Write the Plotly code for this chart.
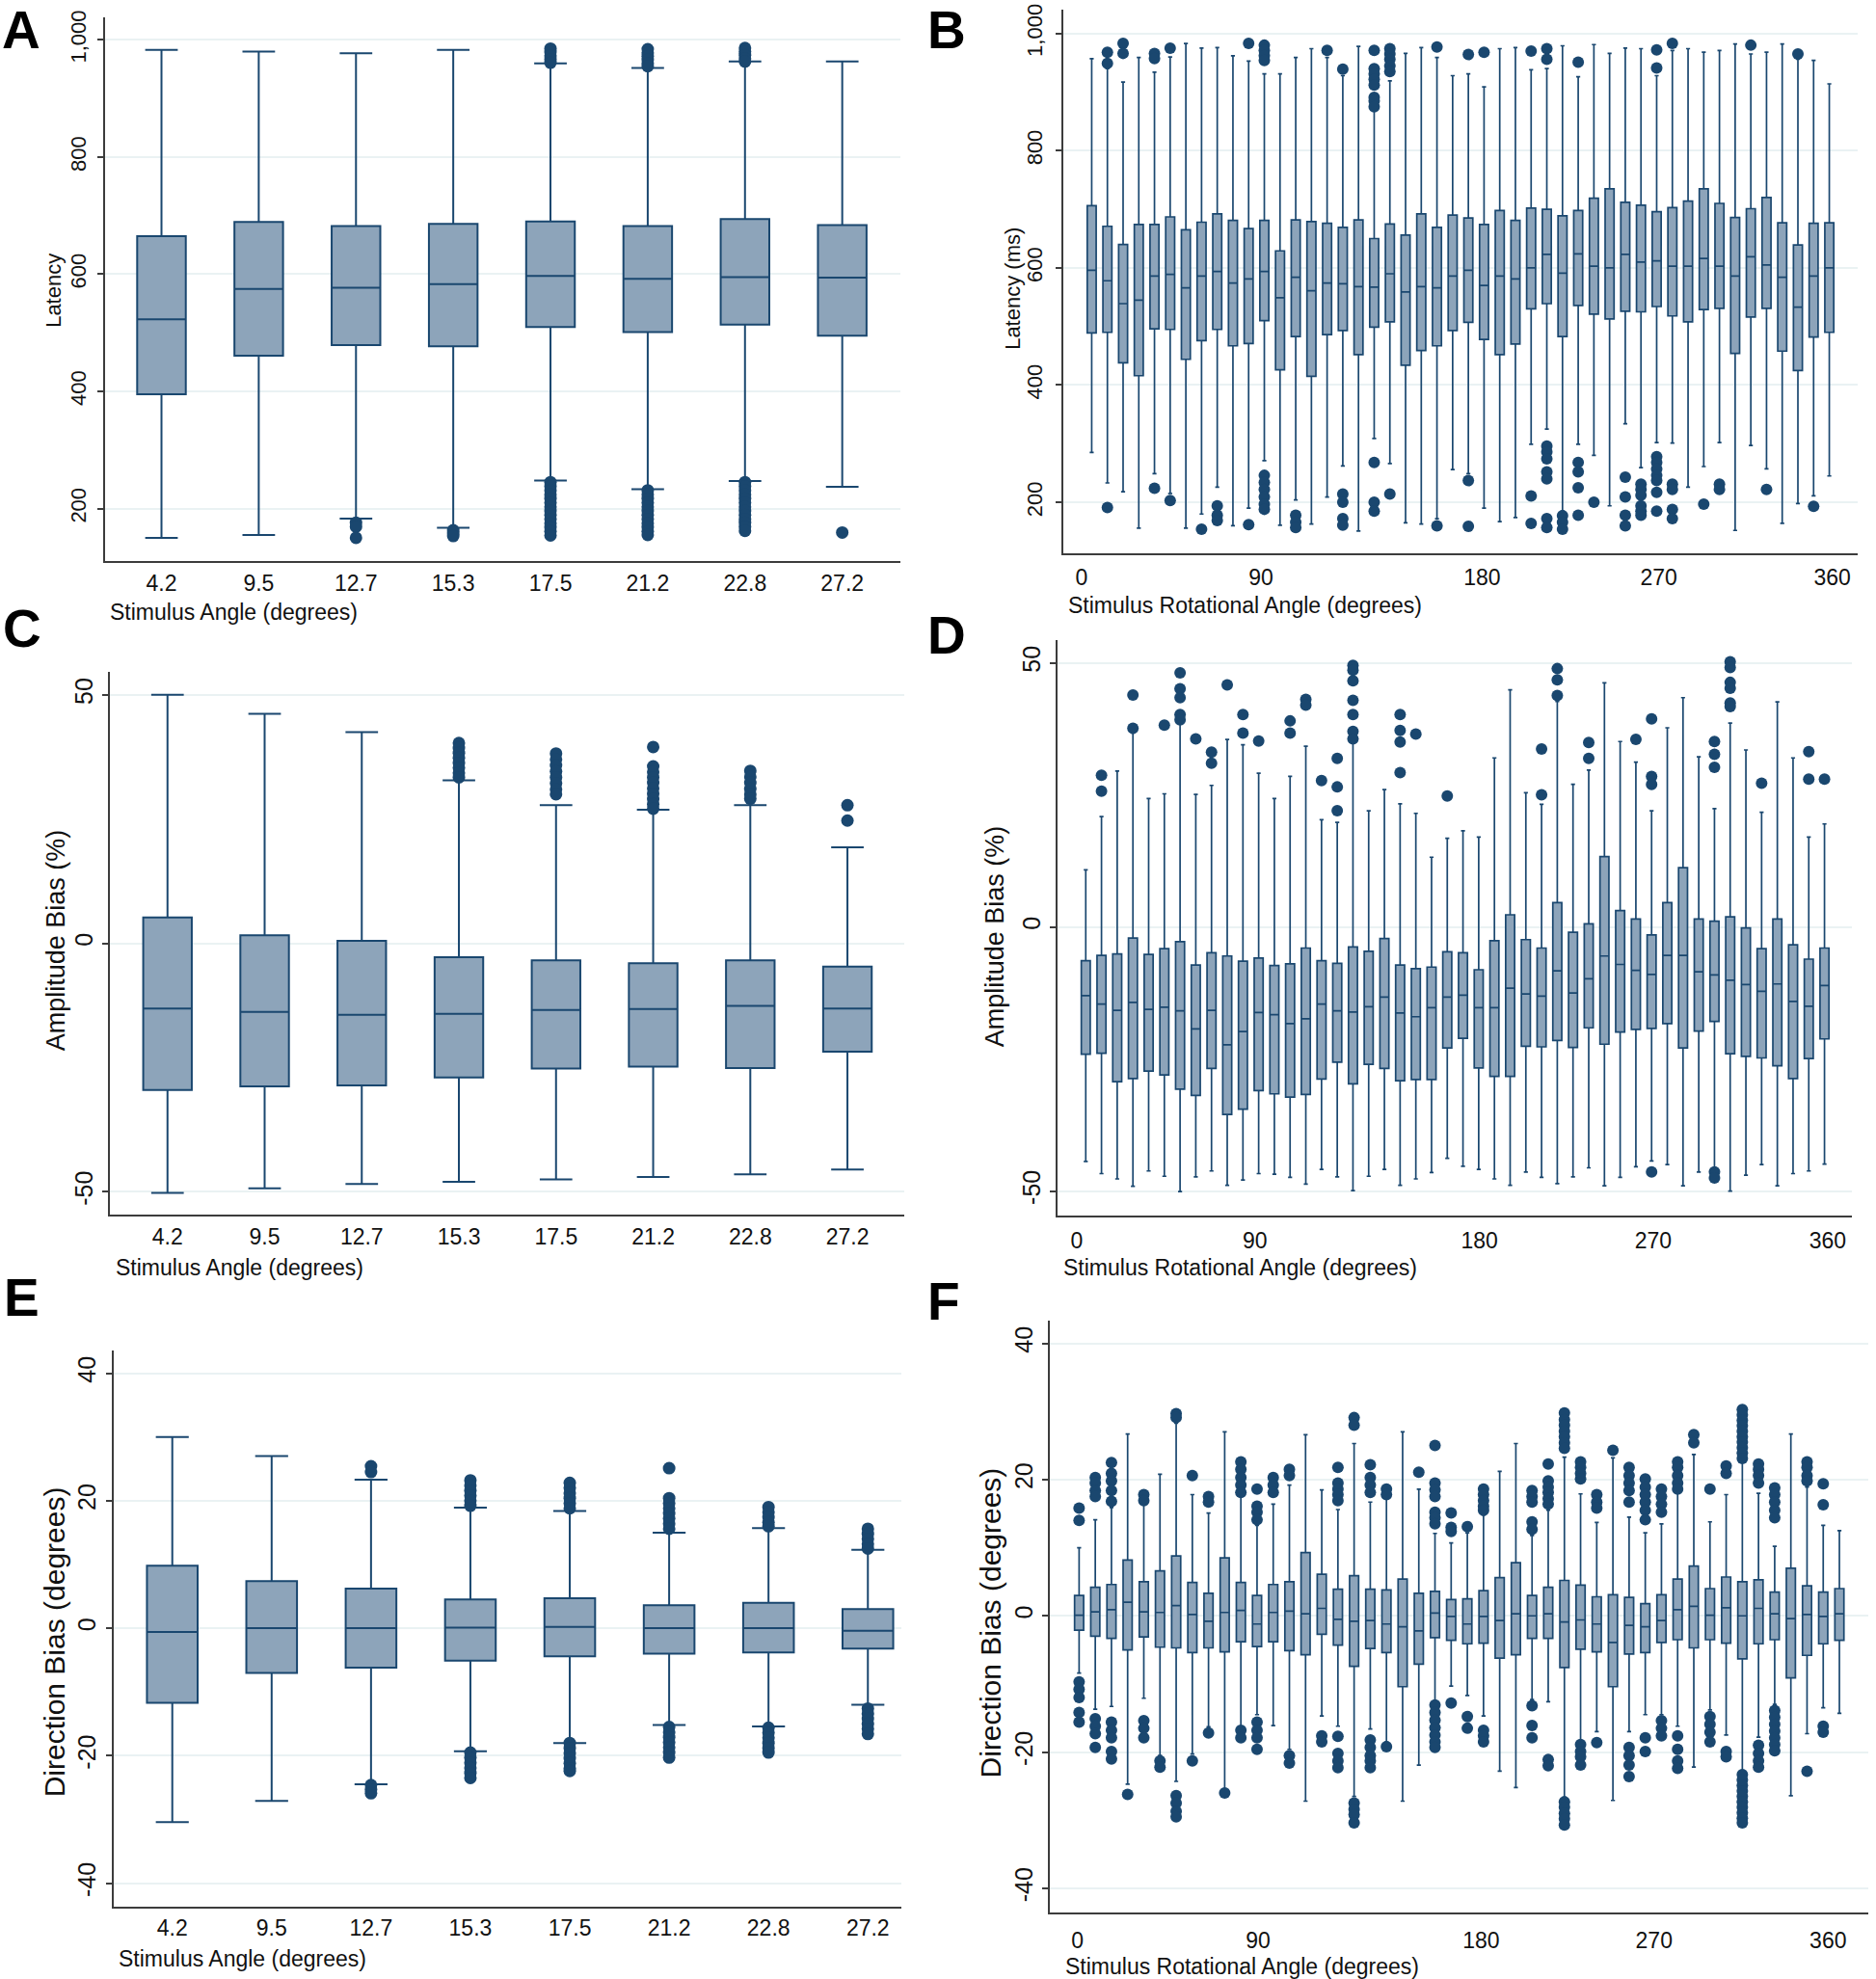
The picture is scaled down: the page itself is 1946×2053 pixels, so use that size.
import plotly.graph_objects as go

W, H = 1946, 2053
NAVY = '#1a476f'
FILL = '#8da4ba'
GRID = '#eaf2f3'
AXIS = '#3c3c3c'
FONT = 'Liberation Sans, Arial, Helvetica, sans-serif'

# ---------------- data ----------------
angle_labels = ['4.2', '9.5', '12.7', '15.3', '17.5', '21.2', '22.8', '27.2']
rot_labels = ['0', '90', '180', '270', '360']

# A: latency by stimulus angle
A_hi = [983, 980, 977, 983, 960, 952, 963, 963]
A_q3 = [665, 689, 682, 686, 690, 682, 694, 684]
A_med = [523, 575, 577, 583, 597, 592, 595, 594]
A_q1 = [395, 461, 479, 477, 510, 501, 514, 495]
A_lo = [150, 155, 183, 167, 248, 233, 247, 237]
A_out = [[], [], [176, 169, 150], [163, 158, 153],
         [985, 979, 973, 967, 961, 245, 238, 231, 224, 217, 210, 203, 196, 189, 182, 175, 168, 161, 154],
         [984, 978, 972, 966, 960, 955, 231, 224, 217, 210, 203, 196, 189, 182, 175, 168, 161, 155],
         [986, 980, 974, 968, 963, 245, 238, 231, 224, 217, 210, 203, 196, 189, 182, 176, 169, 162],
         [159]]

# B: latency by rotational angle (48 bins)
B_hi = [957, 940, 917, 959, 934, 960, 983, 975, 976, 962, 953, 931, 931, 959, 974, 959,
        928, 978, 869, 919, 966, 976, 959, 928, 931, 909, 974, 976, 938, 940, 979, 926,
        981, 966, 975, 974, 928, 971, 974, 968, 971, 982, 965, 968, 982, 956, 954, 914]
B_q3 = [706, 671, 640, 674, 674, 687, 665, 678, 692, 681, 667, 681, 629, 682, 679, 676,
        669, 682, 650, 675, 656, 692, 669, 690, 685, 674, 698, 681, 702, 700, 689, 698,
        719, 735, 712, 707, 696, 703, 714, 735, 710, 686, 701, 720, 677, 639, 676, 677]
B_med = [596, 578, 539, 545, 586, 589, 566, 586, 594, 574, 581, 594, 549, 584, 561, 574,
         573, 568, 567, 590, 559, 568, 566, 586, 596, 570, 586, 581, 600, 623, 591, 624,
         603, 600, 623, 610, 612, 603, 603, 616, 603, 586, 619, 605, 584, 533, 586, 600]
B_q1 = [489, 490, 438, 416, 496, 495, 444, 476, 495, 467, 471, 510, 426, 483, 415, 486,
        493, 452, 499, 508, 434, 459, 467, 493, 507, 478, 452, 470, 530, 539, 483, 536,
        521, 513, 526, 525, 534, 518, 508, 529, 531, 454, 516, 531, 458, 425, 482, 490]
B_lo = [285, 233, 218, 156, 249, 215, 156, 180, 226, 160, 190, 271, 161, 204, 163, 209,
        262, 151, 309, 266, 165, 163, 172, 256, 249, 190, 167, 174, 299, 325, 185, 299,
        280, 194, 334, 259, 302, 301, 226, 261, 302, 152, 297, 257, 164, 198, 211, 245]
B_out = [[], [968, 949, 191], [983, 966], [], [966, 957, 224], [975, 203], [], [154],
         [194, 178, 169], [], [983, 162],
         [980, 971, 962, 954, 246, 234, 222, 209, 197, 188], [], [178, 166, 157], [], [971],
         [939, 214, 200, 172, 161], [],
         [971, 940, 931, 922, 912, 891, 885, 875, 268, 200, 185],
         [974, 965, 956, 945, 935, 214], [], [], [977, 160], [],
         [964, 237, 159], [968], [], [], [970, 211, 164],
         [974, 956, 296, 286, 274, 252, 240, 172, 157], [177, 166, 154],
         [951, 268, 252, 225, 178], [200], [], [243, 209, 178, 160],
         [231, 222, 212, 194, 185, 178], [972, 941, 278, 268, 257, 246, 237, 217, 185],
         [983, 231, 222, 188, 172], [], [197], [231, 222], [], [980], [222], [], [965],
         [193], []]

# C: amplitude bias by stimulus angle
C_hi = [50.0, 46.2, 42.5, 32.8, 27.8, 26.9, 27.8, 19.3]
C_q3 = [5.2, 1.6, 0.5, -2.8, -3.4, -4.0, -3.4, -4.7]
C_med = [-13.1, -13.8, -14.4, -14.2, -13.4, -13.2, -12.6, -13.1]
C_q1 = [-29.5, -28.8, -28.6, -27.0, -25.2, -24.8, -25.1, -21.8]
C_lo = [-50.2, -49.3, -48.4, -48.0, -47.5, -47.0, -46.5, -45.5]
C_out = [[], [], [],
         [40.3, 39.3, 38.3, 37.3, 36.3, 35.3, 34.3, 33.4],
         [38.2, 37.0, 35.8, 34.6, 33.4, 32.2, 31.0, 30.0],
         [39.5, 35.6, 34.5, 33.4, 32.3, 31.2, 30.1, 29.0, 28.0, 27.1],
         [34.7, 33.5, 32.3, 31.1, 30.0, 29.1],
         [27.8, 24.7]]

# D: amplitude bias by rotational angle
D_hi = [10.8, 20.9, 29.5, 36.7, 24.3, 25.2, 38.4, 25.1, 26.8, 35.5, 34.5, 29.1, 24.3, 28.5, 34.2, 20.3,
        19.8, 34.9, 22.0, 26.0, 23.3, 21.5, 13.2, 16.8, 18.2, 17.0, 32.0, 44.9, 25.4, 23.2, 42.7, 27.0,
        29.7, 46.2, 35.1, 31.2, 22.0, 37.7, 43.4, 32.2, 22.4, 38.6, 33.5, 21.7, 42.6, 32.0, 17.0, 19.5]
D_q3 = [-6.4, -5.4, -5.1, -2.1, -5.2, -4.1, -2.8, -7.2, -4.9, -5.5, -6.5, -5.9, -7.3, -7.0, -4.0, -6.4,
        -6.9, -3.8, -4.6, -2.2, -7.2, -7.9, -7.6, -4.7, -4.9, -8.1, -2.6, 2.3, -2.4, -4.0, 4.6, -1.0,
        0.6, 13.3, 3.1, 1.5, -1.5, 4.6, 11.2, 1.5, 1.1, 1.9, -0.2, -4.1, 1.5, -3.4, -6.1, -4.0]
D_med = [-13.0, -14.6, -15.8, -14.3, -15.6, -15.2, -15.9, -19.3, -15.8, -22.3, -19.8, -16.2, -16.6, -18.3, -17.4, -14.6,
         -15.9, -16.1, -15.1, -13.3, -16.3, -17.0, -15.3, -13.3, -12.9, -15.3, -15.3, -11.6, -12.7, -13.1, -8.3, -12.5,
         -9.8, -5.5, -7.1, -8.2, -9.0, -5.4, -5.4, -8.5, -9.1, -10.1, -10.9, -12.2, -10.8, -14.1, -15.0, -11.1]
D_q1 = [-24.1, -23.9, -29.3, -28.7, -27.3, -28.0, -30.7, -31.9, -26.8, -35.5, -34.5, -31.0, -31.6, -32.2, -31.7, -28.8,
        -25.6, -29.7, -26.0, -26.8, -29.1, -28.9, -28.9, -22.9, -21.1, -26.7, -28.3, -28.3, -22.6, -22.7, -21.5, -22.8,
        -19.1, -22.2, -19.9, -19.4, -19.2, -18.3, -22.9, -19.7, -17.9, -24.0, -24.5, -24.8, -26.3, -28.7, -24.9, -21.2]
D_lo = [-44.4, -46.7, -47.7, -49.1, -46.2, -47.2, -50.1, -47.3, -46.2, -48.9, -47.9, -46.7, -46.8, -47.4, -48.7, -45.9,
        -47.3, -49.9, -47.2, -45.9, -48.9, -47.7, -46.5, -43.8, -45.3, -45.9, -47.7, -48.9, -46.4, -47.4, -48.6, -47.3,
        -45.6, -49.0, -47.4, -45.4, -44.3, -45.0, -49.0, -46.4, -45.6, -50.0, -47.0, -45.0, -49.0, -46.7, -46.2, -44.9]
D_out = [[], [28.7, 25.7], [], [43.9, 37.6], [], [38.2], [48.1, 45.1, 43.4, 40.2, 39.2], [35.6],
         [33.1, 31.0], [45.8], [40.2, 36.7], [35.2], [], [39.0, 36.7], [43.1, 42.0], [27.7],
         [31.9, 26.5, 22.0], [49.5, 48.6, 46.6, 42.9, 40.2, 37.0, 35.6], [], [],
         [40.2, 37.2, 35.0, 29.2], [36.5], [], [24.8],
         [], [], [], [], [], [33.7, 25.0], [48.9, 46.8, 43.8], [],
         [34.9, 31.9], [], [], [35.5], [39.4, 28.5, 27.0, -46.4], [], [], [],
         [35.1, 32.7, 30.2, -46.4, -47.5], [50.2, 49.1, 46.3, 45.2, 42.4, 41.7], [], [27.2], [], [],
         [33.2, 28.0], [28.0]]

# E: direction bias by stimulus angle
E_hi = [30.0, 27.0, 23.3, 18.9, 18.4, 15.0, 15.7, 12.3]
E_q3 = [9.8, 7.4, 6.2, 4.5, 4.7, 3.6, 4.0, 3.0]
E_med = [-0.6, 0.0, 0.0, 0.1, 0.2, 0.0, 0.0, -0.4]
E_q1 = [-11.7, -7.0, -6.2, -5.1, -4.4, -4.0, -3.8, -3.2]
E_lo = [-30.4, -27.1, -24.5, -19.3, -18.0, -15.2, -15.4, -12.0]
E_out = [[], [],
         [25.4, 24.5, -24.6, -25.3, -25.9],
         [23.2, 22.4, 21.6, 20.8, 20.0, 19.2, -19.5, -20.3, -21.1, -21.9, -22.7, -23.5],
         [22.8, 22.0, 21.2, 20.4, 19.6, 18.8, -18.0, -18.8, -19.6, -20.4, -21.2, -22.0, -22.4],
         [25.1, 20.4, 19.6, 18.8, 18.0, 17.2, 16.4, 15.6, -15.5, -16.3, -17.1, -17.9, -18.7, -19.5, -20.3],
         [19.0, 18.2, 17.4, 16.6, 16.0, -15.6, -16.4, -17.2, -18.0, -18.8, -19.5],
         [15.6, 14.8, 14.0, 13.2, 12.5, -12.6, -13.4, -14.2, -15.0, -15.8, -16.6]]

# F: direction bias by rotational angle
F_hi = [10.0, 14.1, 15.9, 26.7, 16.3, 20.8, 28.3, 17.8, 15.1, 27.0, 17.8, 13.3, 16.4, 19.2, 26.6, 18.5,
        15.6, 25.3, 16.7, 17.2, 27.0, 18.6, 12.1, 10.7, 12.2, 14.8, 21.2, 25.3, 11.8, 15.5, 23.3, 17.9,
        13.7, 23.2, 14.5, 12.2, 13.5, 18.1, 23.7, 13.8, 17.8, 22.5, 18.0, 10.2, 26.7, 18.9, 13.3, 12.5]
F_q3 = [3.0, 4.2, 4.6, 8.2, 5.0, 6.6, 8.8, 4.9, 3.3, 8.5, 4.9, 3.0, 4.6, 5.0, 9.3, 6.1,
        3.9, 5.9, 3.9, 3.8, 5.4, 3.3, 3.6, 2.4, 2.5, 3.7, 5.6, 7.8, 3.0, 4.2, 5.2, 4.5,
        2.8, 3.1, 2.7, 1.8, 3.1, 5.4, 7.3, 4.0, 5.7, 5.0, 5.3, 3.5, 7.0, 4.4, 3.5, 4.0]
F_med = [0.1, 0.6, 0.9, 2.0, 0.6, 0.5, 1.5, 0.2, -0.8, 0.5, 0.8, -1.2, 0.5, 0.7, 0.3, 1.1,
         -0.5, -0.8, -0.7, -1.2, -1.6, -2.2, 0.4, -0.1, -1.2, -0.1, -0.7, 0.3, 0.0, 0.3, -0.9, -0.6,
         -1.2, -3.9, -1.4, -1.6, -0.7, 0.9, 1.4, 0.1, 1.2, 0.0, 1.1, 0.3, -0.4, 0.2, -0.1, 0.3]
F_q1 = [-2.1, -3.0, -3.3, -5.0, -3.1, -4.6, -4.7, -5.4, -4.7, -5.3, -3.8, -4.5, -3.8, -5.1, -5.7, -2.7,
        -4.3, -7.4, -4.8, -5.4, -10.4, -7.1, -3.2, -3.6, -4.1, -4.0, -6.2, -5.7, -3.3, -3.3, -7.6, -4.9,
        -5.3, -10.4, -5.6, -5.4, -3.9, -3.5, -4.7, -3.5, -4.0, -6.3, -4.1, -3.5, -9.1, -5.8, -4.1, -3.6]
F_lo = [-8.4, -13.7, -13.3, -24.7, -12.1, -20.5, -24.3, -20.3, -16.3, -25.4, -16.2, -14.5, -16.1, -19.6, -27.2, -14.7,
        -16.2, -26.5, -16.6, -18.5, -27.2, -21.9, -12.5, -10.3, -11.7, -14.7, -22.8, -25.2, -12.3, -12.6, -26.6, -18.5,
        -17.0, -27.1, -17.0, -14.5, -14.5, -16.2, -22.2, -13.8, -17.5, -22.7, -17.8, -13.0, -26.4, -17.3, -13.5, -14.3]
F_out = [[15.8, 14.0, -9.7, -10.8, -12.0, -14.2, -15.6],
         [20.3, 19.5, 18.4, 17.5, -15.1, -16.2, -17.3, -19.3],
         [22.5, 20.9, 19.8, 18.4, 16.8, -15.6, -16.8, -17.9, -19.9, -21.0],
         [-26.2],
         [17.8, 16.9, -15.4, -16.5, -17.9],
         [-21.3, -22.2],
         [29.7, 29.1, -26.4, -27.5, -28.7, -29.5],
         [20.6, -21.3],
         [17.5, 16.7, -17.2],
         [-26.0],
         [22.6, 21.5, 20.3, 19.2, 18.1, -16.8, -17.9],
         [18.6, 16.1, 15.2, 14.1, -15.6, -16.8, -17.9, -19.6],
         [20.3, 19.2, 18.1],
         [21.5, 20.6, -20.5, -21.6],
         [],
         [-17.6, -18.5],
         [21.8, 19.5, 18.6, 17.8, 16.9, -17.7, -20.2, -21.3, -22.3],
         [29.1, 28.0, -27.5, -28.4, -29.2, -30.4],
         [22.2, 20.3, 19.2, 18.1, -18.2, -19.3, -20.5, -21.3, -22.3],
         [18.6, 17.8, -19.2],
         [],
         [21.1],
         [25.0, 19.5, 18.5, 17.5, 15.2, 14.4, 13.5, -13.1, -14.2, -15.3, -16.4, -17.5, -18.5, -19.3],
         [15.1, 13.0, 12.4, -12.8],
         [13.1, -14.8, -16.5],
         [18.6, 17.8, 16.9, 16.1, 15.5, -16.8, -17.6, -18.5],
         [],
         [],
         [18.4, 17.5, 16.7, 13.8, 12.7, -13.2, -16.1, -17.9],
         [22.3, 19.8, 18.9, 18.1, 17.2, 16.4, -21.1, -22.0],
         [29.8, 28.8, 28.0, 27.1, 26.3, 25.4, 24.6, -27.3, -28.1, -29.0, -29.8, -30.7],
         [22.6, 21.8, 20.9, 20.1, -18.9, -19.9, -20.7, -21.9],
         [17.8, 16.7, 15.8, -18.6],
         [24.3],
         [21.8, 20.6, 19.5, 18.4, 16.7, -19.3, -20.5, -21.9, -23.6],
         [20.1, 18.9, 17.8, 16.7, 15.5, 14.1, -17.9, -19.9],
         [18.6, 17.5, 16.4, 15.2, -15.4, -16.5, -17.6],
         [22.6, 21.8, 20.6, 19.5, 18.6, -17.6, -19.6, -21.3, -22.4],
         [26.6, 25.4],
         [18.6, -14.8, -15.9, -17.1, -18.5],
         [22.0, 20.9, -19.9, -20.7],
         [30.3, 29.5, 28.7, 27.9, 27.1, 26.3, 25.5, 24.7, 23.9, 23.1,
          -23.3, -24.1, -24.9, -25.7, -26.5, -27.3, -28.1, -28.9, -29.7, -30.4],
         [22.3, 21.5, 20.6, 19.5, -19.0, -20.2, -21.3, -22.2],
         [18.8, 17.8, 16.7, 15.5, 14.4, -13.9, -14.9, -15.9, -16.9, -17.9, -18.9, -19.8],
         [],
         [22.6, 21.8, 20.6, 19.8, -22.8],
         [19.4, 16.3, -16.2, -17.1],
         []]

# ---------------- figure ----------------
fig = go.Figure()


def add_panel(n, hi, q3, med, q1, lo, outs, width, capw, lw, msize):
    pos = list(range(len(med)))
    xa = 'x' if n == 1 else 'x%d' % n
    ya = 'y' if n == 1 else 'y%d' % n
    fig.add_trace(go.Box(x=pos, q1=q1, median=med, q3=q3, lowerfence=lo, upperfence=hi,
                         width=width, whiskerwidth=capw, fillcolor=FILL,
                         line=dict(color=NAVY, width=lw), boxpoints=False,
                         hoverinfo='skip', xaxis=xa, yaxis=ya))
    ox, oy = [], []
    for i, vals in zip(pos, outs):
        for v in vals:
            ox.append(i)
            oy.append(v)
    fig.add_trace(go.Scatter(x=ox, y=oy, mode='markers', hoverinfo='skip',
                             marker=dict(size=msize, color=NAVY, line=dict(width=0)),
                             xaxis=xa, yaxis=ya))


add_panel(1, A_hi, A_q3, A_med, A_q1, A_lo, A_out, 0.5, 0.67, 2, 13)
add_panel(2, B_hi, B_q3, B_med, B_q1, B_lo, B_out, 0.57, 0.45, 1.7, 12)
add_panel(3, C_hi, C_q3, C_med, C_q1, C_lo, C_out, 0.5, 0.67, 2, 13)
add_panel(4, D_hi, D_q3, D_med, D_q1, D_lo, D_out, 0.57, 0.45, 1.7, 12)
add_panel(5, E_hi, E_q3, E_med, E_q1, E_lo, E_out, 0.51, 0.65, 2, 13)
add_panel(6, F_hi, F_q3, F_med, F_q1, F_lo, F_out, 0.56, 0.45, 1.7, 12)

# panel geometry in page pixels: (left, right), (top, bottom), x range, y range
geom = {
    1: ((108.6, 933.9), (10.3, 576.5), (-0.584, 7.597), (110, 1038)),
    2: ((1103.3, 1926.7), (2.4, 568.5), (-1.79, 48.79), (112.5, 1040)),
    3: ((113.6, 938.0), (691.8, 1256.5), (-0.597, 7.585), (-54.5, 54.6)),
    4: ((1097.1, 1921.1), (658.6, 1257.7), (-1.79, 48.75), (-54.6, 54.3)),
    5: ((117.9, 935.0), (1398.2, 1977.8), (-0.59, 7.337), (-43.7, 43.6)),
    6: ((1089.0, 1937.9), (1366.9, 1983.4), (-1.81, 48.78), (-43.5, 43.4)),
}
lat_ticks = ([200, 400, 600, 800, 1000], ['200', '400', '600', '800', '1,000'])
amp_ticks = ([-50, 0, 50], ['-50', '0', '50'])
dir_ticks = ([-40, -20, 0, 20, 40], ['-40', '-20', '0', '20', '40'])
yticks = {1: lat_ticks, 2: lat_ticks, 3: amp_ticks, 4: amp_ticks, 5: dir_ticks, 6: dir_ticks}
xticks = {
    1: (list(range(8)), angle_labels),
    2: ([-0.65, 10.78, 24.88, 36.13, 47.19], rot_labels),
    3: (list(range(8)), angle_labels),
    4: ([-0.57, 10.77, 25.05, 36.1, 47.2], rot_labels),
    5: (list(range(8)), angle_labels),
    6: ([-0.11, 11.06, 24.85, 35.54, 46.3], rot_labels),
}
ytick_size = {1: 22, 2: 22, 3: 25, 4: 25, 5: 25, 6: 25}
ytick_gap = {1: 3, 2: 6, 3: 0, 4: 0, 5: 1, 6: 0}
xtick_gap = {1: 1, 2: 3, 3: 2, 4: 5, 5: 0, 6: 8}

layout_axes = {}
for n, ((xl, xr), (yt, yb), xrange_, yrange_) in geom.items():
    sx = '' if n == 1 else str(n)
    layout_axes['xaxis' + sx] = dict(
        domain=[xl / W, xr / W], range=list(xrange_), anchor='y' + sx,
        showline=True, linecolor=AXIS, linewidth=2, showgrid=False, zeroline=False,
        ticks='', tickmode='array', tickvals=xticks[n][0], ticktext=xticks[n][1],
        tickfont=dict(family=FONT, size=23, color='#111111'),
        ticklabelstandoff=xtick_gap[n])
    layout_axes['yaxis' + sx] = dict(
        domain=[1 - yb / H, 1 - yt / H], range=list(yrange_), anchor='x' + sx,
        showline=True, linecolor=AXIS, linewidth=2, zeroline=False,
        showgrid=True, gridcolor=GRID, gridwidth=1.5,
        ticks='outside', ticklen=6, tickwidth=1.5, tickcolor=AXIS,
        tickmode='array', tickvals=yticks[n][0], ticktext=yticks[n][1], tickangle=-90,
        tickfont=dict(family=FONT, size=ytick_size[n], color='#111111'),
        ticklabelstandoff=ytick_gap[n])

annotations = []
# y titles: text, centre x, centre y, size
for txt, cx, cy, sz in [('Latency', 56, 295, 22), ('Latency (ms)', 1051, 293, 22),
                        ('Amplitude Bias (%)', 58, 971, 27), ('Amplitude Bias (%)', 1032, 967, 27),
                        ('Direction Bias (degrees)', 56, 1702, 30),
                        ('Direction Bias (degrees)', 1027, 1682, 30)]:
    annotations.append(dict(text=txt, x=cx / W, y=1 - cy / H, xref='paper', yref='paper',
                            xanchor='center', yanchor='middle', textangle=-90, showarrow=False,
                            font=dict(family=FONT, size=sz, color='#111111')))
# x titles: text, left x, centre y
for txt, lx, cy in [('Stimulus Angle (degrees)', 112, 629.5),
                    ('Stimulus Rotational Angle (degrees)', 1106, 622.5),
                    ('Stimulus Angle (degrees)', 118, 1312),
                    ('Stimulus Rotational Angle (degrees)', 1101, 1312),
                    ('Stimulus Angle (degrees)', 121, 2032),
                    ('Stimulus Rotational Angle (degrees)', 1103, 2040)]:
    annotations.append(dict(text=txt, x=lx / W, y=1 - cy / H, xref='paper', yref='paper',
                            xanchor='left', yanchor='middle', showarrow=False,
                            font=dict(family=FONT, size=23, color='#000000' if False else '#111111')))
# panel letters: letter, left x, top y of text box
for txt, lx, ty in [('A', 0, -10), ('B', 960, -10), ('C', 1, 613),
                    ('D', 960, 620), ('E', 2, 1310), ('F', 960, 1314)]:
    annotations.append(dict(text='<b>%s</b>' % txt, x=lx / W, y=1 - ty / H,
                            xref='paper', yref='paper', xanchor='left', yanchor='top',
                            showarrow=False, font=dict(family=FONT, size=55, color='#000000')))

fig.update_layout(width=W, height=H, margin=dict(l=0, r=0, t=0, b=0),
                  paper_bgcolor='white', plot_bgcolor='white', showlegend=False,
                  annotations=annotations, **layout_axes)

fig.write_html("out.html", config={'displayModeBar': False},
               post_script="document.body.style.margin='0';")
